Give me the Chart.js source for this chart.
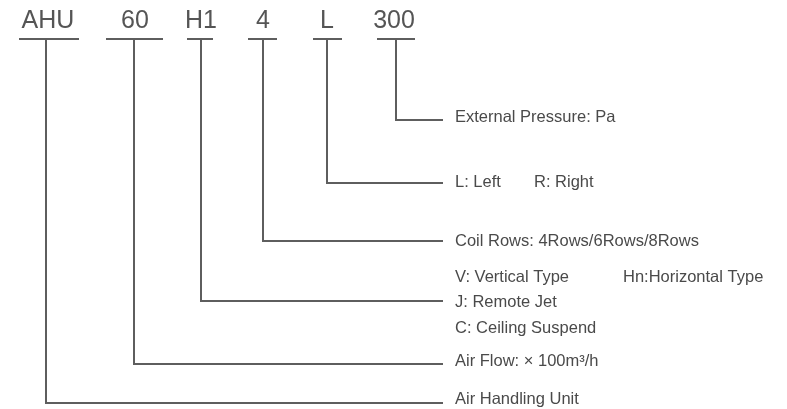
<!DOCTYPE html>
<html>
<head>
<meta charset="utf-8">
<script src="https://cdn.jsdelivr.net/npm/chart.js@4"></script>
<style>
  html, body { margin: 0; padding: 0; background: #fff; }
  #wrap { width: 787px; height: 409px; }
</style>
</head>
<body>
<div id="wrap"><canvas id="code-chart" width="787" height="409"></canvas></div>
<script>
// model code parts and where each one sits (diagram units = px of the 787x409 sheet)
var codes = ['AHU', '60', 'H1', '4', 'L', '300'];
var codeCenter = [48, 135, 201, 263, 327, 394];
var barFrom = [19, 106, 187, 248, 313, 377];
var barTo = [79, 163, 213, 277, 342, 415];
var stemX = [46, 134, 201, 263, 327, 396];
var leaderY = [403, 364, 301, 241, 183, 120];
var leaderEnd = 443;
var barY = 39;

// description texts
var descText = ['External Pressure: Pa', 'L: Left', 'R: Right', 'Coil Rows: 4Rows/6Rows/8Rows',
    'V: Vertical Type', 'Hn:Horizontal Type', 'J: Remote Jet', 'C: Ceiling Suspend',
    'Air Flow: \u00d7 100m\u00b3/h', 'Air Handling Unit'];
var descX = [455, 455, 534, 455, 455, 623, 455, 455, 455, 455];
var descY = [122, 187, 187, 246, 282, 282, 307, 333, 366, 404];

var lineColor = '#5e5e5e';
var datasets = [];
for (var i = 0; i < codes.length; i++) {
    // short bar under the code
    datasets.push({
        data: [{x: barFrom[i], y: barY}, {x: barTo[i], y: barY}],
        borderColor: lineColor, borderWidth: 2, pointRadius: 0, showLine: true, clip: false
    });
    // stem down, then across to the description
    datasets.push({
        data: [{x: stemX[i], y: barY}, {x: stemX[i], y: leaderY[i]}, {x: leaderEnd, y: leaderY[i]}],
        borderColor: lineColor, borderWidth: 2, pointRadius: 0, showLine: true, clip: false,
        borderJoinStyle: 'miter'
    });
}

var textPlugin = {
    id: 'codeText',
    afterDatasetsDraw: function(chart) {
        var ctx = chart.ctx, xs = chart.scales.x, ys = chart.scales.y;
        ctx.save();
        ctx.fillStyle = '#555555';
        ctx.font = '25px "Liberation Sans", Arial, sans-serif';
        ctx.textAlign = 'center';
        ctx.textBaseline = 'alphabetic';
        for (var i = 0; i < codes.length; i++) {
            ctx.fillText(codes[i], xs.getPixelForValue(codeCenter[i]), ys.getPixelForValue(28));
        }
        ctx.fillStyle = '#4a4a4a';
        ctx.font = '16.5px "Liberation Sans", Arial, sans-serif';
        ctx.textAlign = 'left';
        for (var j = 0; j < descText.length; j++) {
            ctx.fillText(descText[j], xs.getPixelForValue(descX[j]), ys.getPixelForValue(descY[j]));
        }
        ctx.restore();
    }
};

new Chart(document.getElementById('code-chart'), {
    type: 'scatter',
    data: { datasets: datasets },
    options: {
        responsive: false,
        animation: false,
        layout: { padding: 0 },
        plugins: { legend: { display: false }, tooltip: { enabled: false } },
        scales: {
            x: { type: 'linear', min: 0, max: 787, display: false },
            y: { type: 'linear', min: 0, max: 409, reverse: true, display: false }
        }
    },
    plugins: [textPlugin]
});
</script>
</body>
</html>
